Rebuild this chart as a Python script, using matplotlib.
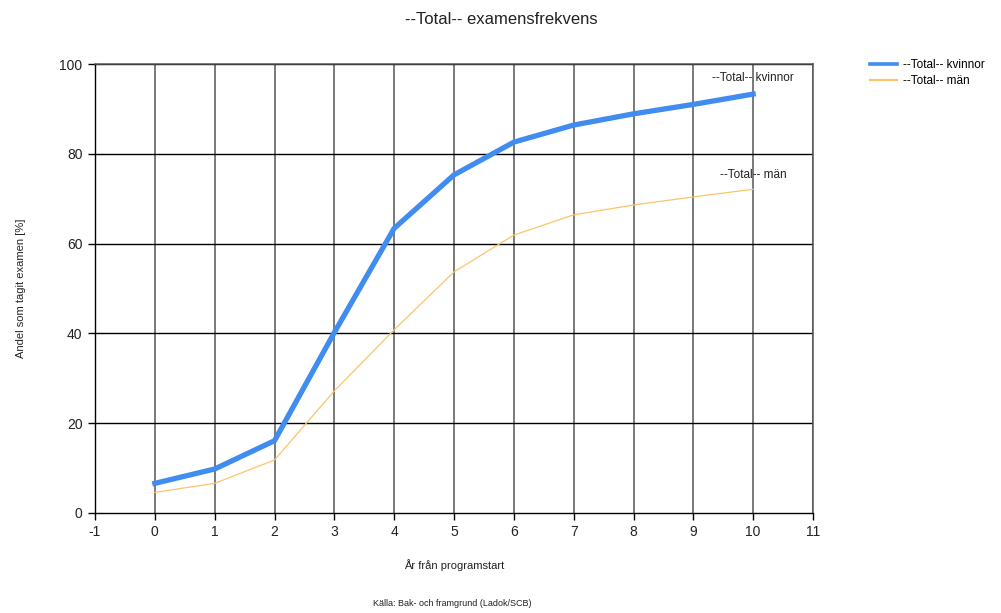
import matplotlib
matplotlib.use("Agg")
import matplotlib.pyplot as plt
from matplotlib.lines import Line2D

plt.rcParams['font.family'] = ['Liberation Sans', 'DejaVu Sans']
plt.rcParams['axes.unicode_minus'] = False

years = [0, 1, 2, 3, 4, 5, 6, 7, 8, 9, 10]
kvinnor = [6.6, 9.8, 16.1, 40.2, 63.4, 75.3, 82.6, 86.4, 88.9, 91.0, 93.3]
man = [4.6, 6.6, 11.8, 27.2, 40.8, 53.7, 61.9, 66.4, 68.6, 70.4, 72.1]

x_ticks = list(range(-1, 12))
y_ticks = [0, 20, 40, 60, 80, 100]

title = "--Total-- examensfrekvens"
label_k = "--Total-- kvinnor"
label_m = "--Total-- män"

blue = "#418CF0"
orange = "#FCC46A"

fig = plt.figure(figsize=(10.01, 6.13), dpi=100)
ax = fig.add_axes([95 / 1001, 100 / 613, 718 / 1001, 449 / 613])

ax.set_xlim(-1, 11)
ax.set_ylim(0, 100)
ax.set_xticks(x_ticks)
ax.set_yticks(y_ticks)

# grid: vertical lines grey, horizontal lines black
for xv in x_ticks[1:]:
    ax.axvline(xv, color="#555555", lw=1.1, zorder=1)
for yv in y_ticks[1:]:
    ax.axhline(yv, color="#000000", lw=1.0, zorder=1)

ax.plot(years, kvinnor, color=blue, lw=3.8, zorder=3, solid_joinstyle="round")
ax.plot(years, man, color=orange, lw=0.9, zorder=3)

ax.text(10, kvinnor[-1] + 2.2, label_k, ha="center", va="bottom", fontsize=8.5, color="#222222")
ax.text(10, man[-1] + 1.9, label_m, ha="center", va="bottom", fontsize=8.5, color="#222222")

for side in ["top", "right"]:
    ax.spines[side].set_color("#555555")
    ax.spines[side].set_linewidth(1.1)
for side in ["left", "bottom"]:
    ax.spines[side].set_color("#000000")
    ax.spines[side].set_linewidth(1.0)

ax.tick_params(axis="both", direction="out", length=5, width=1, color="#000000",
               labelsize=10, labelcolor="#222222", pad=4)

ax.set_xlabel("År från programstart", fontsize=8, color="#222222", labelpad=14)
ax.set_ylabel("Andel som tagit examen [%]", fontsize=8, color="#222222", labelpad=24)

fig.text(0.5005, 0.968, title, ha="center", va="center", fontsize=12, color="#222222")
fig.text(452 / 1001, 1 - 603 / 613, "Källa: Bak- och framgrund (Ladok/SCB)",
         ha="center", va="center", fontsize=6.5, color="#222222")

handles = [Line2D([], [], color=blue, lw=2.6), Line2D([], [], color=orange, lw=1.6)]
fig.legend(handles=handles, labels=[label_k, label_m], loc="upper left",
           bbox_to_anchor=(870 / 1001, 1 - 59 / 613),
           frameon=False, fontsize=8.5, handlelength=2.3, handletextpad=0.5,
           labelspacing=0.35, borderpad=0, borderaxespad=0)

fig.savefig("out.png", dpi=100)
